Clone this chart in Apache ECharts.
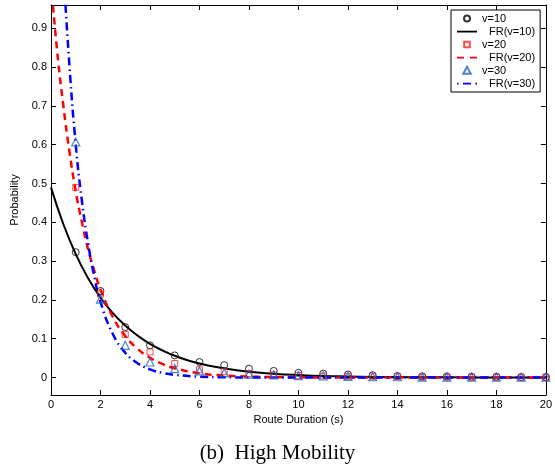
<!DOCTYPE html>
<html>
<head>
<meta charset="utf-8">
<script src="https://cdn.jsdelivr.net/npm/echarts@6/dist/echarts.min.js"></script>
<style>
  html, body { margin: 0; padding: 0; background: #fff; }
  #chart { width: 555px; height: 468px; }
</style>
</head>
<body>
<div id="chart"></div>
<script>
// Simulated route-duration probabilities at integer durations (s)
const markerX = [1, 2, 3, 4, 5, 6, 7, 8, 9, 10, 11, 12, 13, 14, 15, 16, 17, 18, 19, 20];
const simV10 = [0.323, 0.223, 0.130, 0.083, 0.057, 0.040, 0.032, 0.023, 0.017, 0.012,
                0.010, 0.008, 0.006, 0.004, 0.003, 0.003, 0.002, 0.002, 0.001, 0.001];
const simV20 = [0.490, 0.215, 0.111, 0.066, 0.036, 0.020, 0.015, 0.010, 0.007, 0.005,
                0.004, 0.003, 0.002, 0.002, 0.001, 0.001, 0.001, 0.001, 0.001, 0.001];
const simV30 = [0.607, 0.202, 0.083, 0.040, 0.023, 0.017, 0.012, 0.009, 0.007, 0.005,
                0.004, 0.003, 0.002, 0.002, 0.001, 0.001, 0.001, 0.001, 0.001, 0.001];

// Analytical (FR) curves, sampled along the duration axis
const frX10 = [0, 0.5, 1, 1.5, 2, 2.5, 3, 3.5, 4, 4.5, 5, 6, 7, 8, 9, 10, 11, 12, 13, 14, 15, 16, 18, 20];
const frV10 = [0.490, 0.395, 0.318, 0.256, 0.206, 0.166, 0.134, 0.108, 0.087, 0.070, 0.056,
               0.036, 0.024, 0.015, 0.010, 0.0065, 0.004, 0.0027, 0.0017, 0.0011, 0.0007, 0.0005, 0.0002, 0.0001];
const frX20 = [0, 0.25, 0.5, 0.75, 1, 1.25, 1.5, 1.75, 2, 2.5, 3, 3.5, 4, 4.5, 5, 6, 7, 8, 9, 10, 12, 20];
const frV20 = [1.02, 0.84, 0.70, 0.58, 0.48, 0.40, 0.33, 0.275, 0.227, 0.156, 0.107, 0.074,
               0.051, 0.035, 0.024, 0.011, 0.0053, 0.0025, 0.0012, 0.0006, 0.0001, 0];
const frX30 = [0.5, 0.75, 1, 1.25, 1.5, 1.75, 2, 2.5, 3, 3.5, 4, 4.5, 5, 6, 7, 8, 20];
const frV30 = [1.05, 0.80, 0.60, 0.455, 0.345, 0.26, 0.195, 0.112, 0.064, 0.037, 0.021,
               0.012, 0.007, 0.0023, 0.0008, 0.0002, 0];

const yTicks = [0, 0.1, 0.2, 0.3, 0.4, 0.5, 0.6, 0.7, 0.8, 0.9];

const pairs = (xs, ys) => xs.map((x, i) => [x, ys[i]]);

const font = 'Liberation Sans, Arial, Helvetica, sans-serif';
const tick = { show: true, inside: true, length: 5, lineStyle: { color: '#000', width: 1 } };
const line = { show: true, onZero: false, lineStyle: { color: '#000', width: 1 } };

// Legend glyphs in a 20x8 box (the leading moves pin the box size)
const box = 'path://M0,0 M20,8 ';
const legendIcons = {
  'v=10': box + 'M13,4 A3,3 0 1,1 7,4 A3,3 0 1,1 13,4 z',
  'FR(v=10)': box + 'M0,3.2 h20 v1.8 h-20 z',
  'v=20': box + 'M7.2,1.2 h5.6 v5.6 h-5.6 z',
  'FR(v=20)': box + 'M0,3.2 h7 v1.8 h-7 z M13,3.2 h7 v1.8 h-7 z',
  'v=30': box + 'M10,0.3 L13.8,7.3 L6.2,7.3 z',
  'FR(v=30)': box + 'M0,3.2 h1.6 v1.8 h-1.6 z M6,3.2 h8 v1.8 h-8 z M18.4,3.2 h1.6 v1.8 h-1.6 z'
};
const legendNames = ['v=10', 'FR(v=10)', 'v=20', 'FR(v=20)', 'v=30', 'FR(v=30)'];

const xBase = { type: 'value', min: 0, max: 20, interval: 2, splitLine: { show: false },
                axisLine: line, axisTick: tick };
const yBase = { type: 'value', min: -0.045, max: 0.96, splitLine: { show: false },
                axisLine: line, axisTick: Object.assign({ customValues: yTicks }, tick) };

const chart = echarts.init(document.getElementById('chart'), null, { renderer: 'canvas' });
chart.setOption({
  animation: false,
  backgroundColor: '#fff',
  textStyle: { fontFamily: font },
  title: {
    text: '(b)  High Mobility',
    left: 'center',
    top: 443,
    padding: 0,
    textStyle: { fontFamily: 'Liberation Serif, Times New Roman, serif', fontSize: 21,
                 fontWeight: 'normal', color: '#000' }
  },
  grid: { left: 51, right: 9, top: 5, bottom: 73 },
  legend: {
    orient: 'vertical',
    left: 451, top: 10,
    padding: [3, 5, 3, 5],
    backgroundColor: '#fff',
    borderColor: '#000', borderWidth: 1, borderRadius: 0,
    itemWidth: 20, itemHeight: 8, itemGap: 2,
    symbolKeepAspect: true,
    textStyle: {
      fontFamily: font, fontSize: 11, color: '#000', lineHeight: 11,
      rich: { fr: { padding: [0, 0, 0, 7], fontSize: 11, fontFamily: font, color: '#000' } }
    },
    formatter: n => n.startsWith('FR') ? '{fr|' + n + '}' : n,
    data: legendNames.map(n => ({ name: n, icon: legendIcons[n] }))
  },
  xAxis: [
    Object.assign({}, xBase, {
      position: 'bottom',
      name: 'Route Duration (s)', nameLocation: 'middle', nameGap: 19,
      nameTextStyle: { fontFamily: font, fontSize: 11, color: '#000' },
      axisLabel: { margin: 4, fontFamily: font, fontSize: 11, color: '#000' }
    }),
    Object.assign({}, xBase, { position: 'top', axisLabel: { show: false } })
  ],
  yAxis: [
    Object.assign({}, yBase, {
      position: 'left',
      name: 'Probability', nameLocation: 'middle', nameGap: 26,
      nameTextStyle: { fontFamily: font, fontSize: 11, color: '#000' },
      axisLabel: { customValues: yTicks, margin: 4, fontFamily: font, fontSize: 11, color: '#000',
                   formatter: v => String(Math.round(v * 10) / 10) }
    }),
    Object.assign({}, yBase, { position: 'right', axisLabel: { show: false } })
  ],
  series: [
    {
      name: 'v=10', type: 'scatter', data: pairs(markerX, simV10),
      symbol: 'circle', symbolSize: 7, z: 5,
      itemStyle: { color: 'rgba(0,0,0,0)', borderColor: '#000', borderWidth: 1 }
    },
    {
      name: 'FR(v=10)', type: 'line', data: pairs(frX10, frV10),
      symbol: 'none', smooth: true, z: 3,
      itemStyle: { color: '#000' },
      lineStyle: { color: '#000', width: 2, type: 'solid' }
    },
    {
      name: 'v=20', type: 'scatter', data: pairs(markerX, simV20),
      symbol: 'rect', symbolSize: 6, z: 5,
      itemStyle: { color: 'rgba(0,0,0,0)', borderColor: '#ff1a1a', borderWidth: 1 }
    },
    {
      name: 'FR(v=20)', type: 'line', data: pairs(frX20, frV20),
      symbol: 'none', smooth: true, z: 3,
      itemStyle: { color: '#ff0000' },
      lineStyle: { color: '#ff0000', width: 2.5, type: [7, 5] }
    },
    {
      name: 'v=30', type: 'scatter', data: pairs(markerX, simV30),
      symbol: 'triangle', symbolSize: 8, z: 5,
      itemStyle: { color: 'rgba(0,0,0,0)', borderColor: '#1f64c0', borderWidth: 1.2 }
    },
    {
      name: 'FR(v=30)', type: 'line', data: pairs(frX30, frV30),
      symbol: 'none', smooth: true, z: 3,
      itemStyle: { color: '#0000ff' },
      lineStyle: { color: '#0000ff', width: 2.5, type: [8, 4, 1.5, 4] }
    }
  ]
});
</script>
</body>
</html>
